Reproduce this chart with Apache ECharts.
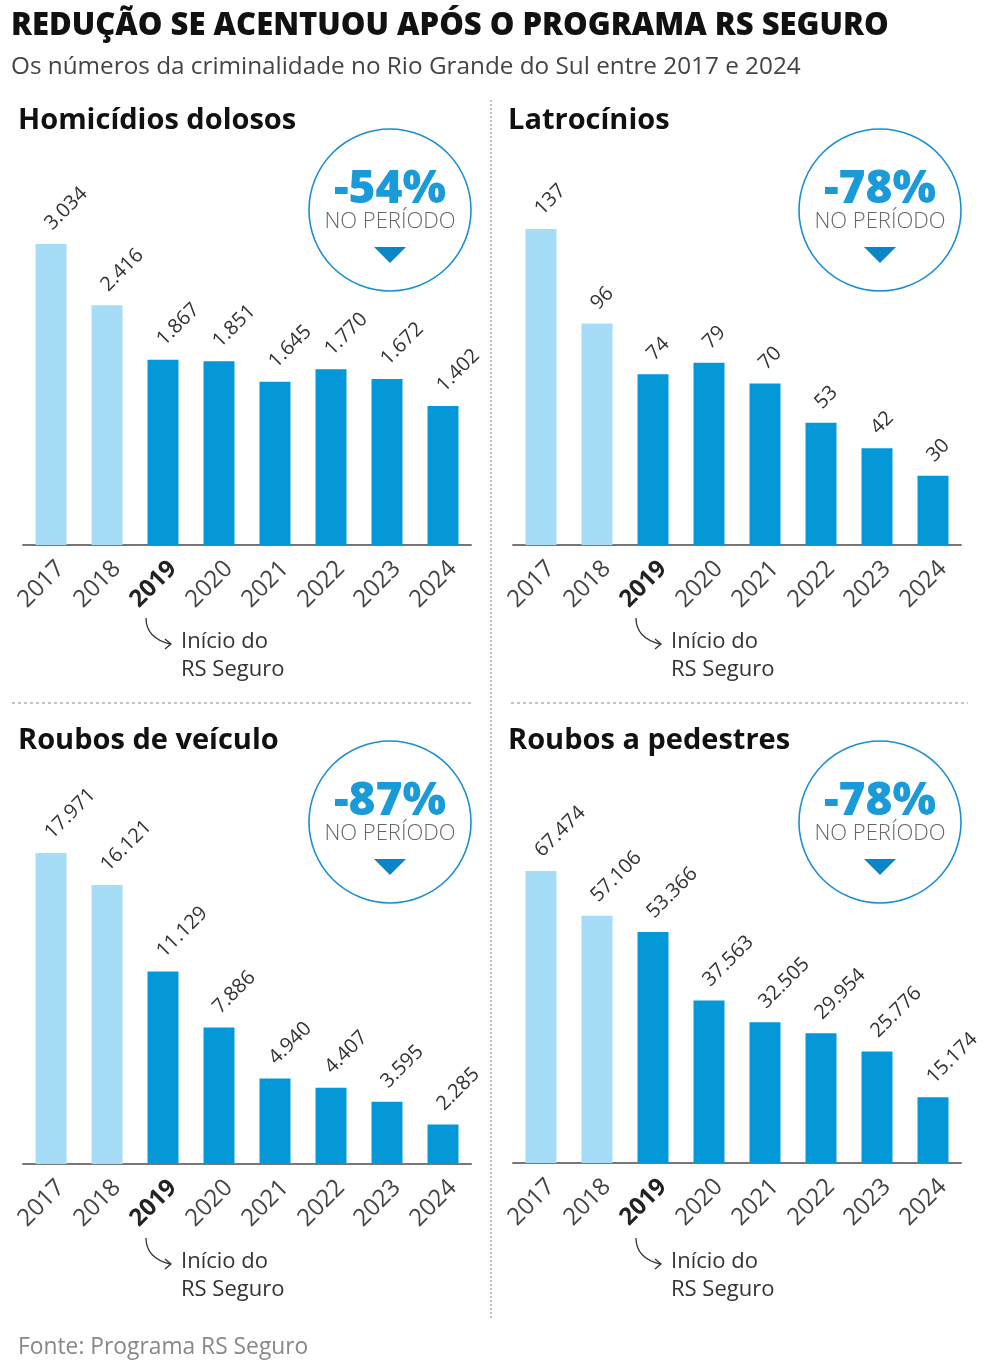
<!DOCTYPE html>
<html>
<head>
<meta charset="utf-8">
<script src="https://cdn.jsdelivr.net/npm/echarts@6/dist/echarts.min.js"></script>
</head>
<body style="margin:0;background:#fff">
<div id="chart" style="width:984px;height:1371px"></div>
<script>
// anos e valores de cada painel
var years = ['2017', '2018', '2019', '2020', '2021', '2022', '2023', '2024'];
var homicidios = [3034, 2416, 1867, 1851, 1645, 1770, 1672, 1402];
var latrocinios = [137, 96, 74, 79, 70, 53, 42, 30];
var roubosVeiculo = [17971, 16121, 11129, 7886, 4940, 4407, 3595, 2285];
var roubosPedestres = [67474, 57106, 53366, 37563, 32505, 29954, 25776, 15174];
var panelTitles = ['Homicídios dolosos', 'Latrocínios', 'Roubos de veículo', 'Roubos a pedestres'];
var reducoes = ['-54%', '-78%', '-87%', '-78%'];

var LIGHT = '#a6ddf6';
var DARK = '#0598d8';
var FONT = '"Open Sans", "Noto Sans", sans-serif';

function fmt(v) {
  return String(v).replace(/\B(?=(\d{3})+(?!\d))/g, '.');
}

// posição de cada painel
var panels = [
  { data: homicidios, left: 23, top: 200, height: 345, max: 3477, dx: 0, dy: 0 },
  { data: latrocinios, left: 513, top: 200, height: 345, max: 149.6, dx: 490, dy: 0 },
  { data: roubosVeiculo, left: 23, top: 800, height: 364, max: 21034, dx: 0, dy: 620 },
  { data: roubosPedestres, left: 513, top: 800, height: 363, max: 83880, dx: 490, dy: 620 }
];

var grids = [], xAxes = [], yAxes = [], series = [], graphics = [];

panels.forEach(function (p, i) {
  grids.push({ left: p.left, top: p.top, width: 448, height: p.height });
  xAxes.push({
    type: 'category', gridIndex: i, data: years,
    axisLine: { lineStyle: { color: '#777', width: 2 } },
    axisTick: { show: false },
    axisLabel: {
      rotate: 45, margin: 10, fontSize: 24, color: '#444', fontFamily: FONT,
      verticalAlign: 'top', padding: [2, 0, 0, 0],
      formatter: function (v) { return v === '2019' ? '{b|' + v + '}' : v; },
      rich: { b: { fontWeight: 'bold', fontSize: 24, color: '#222', fontFamily: FONT } }
    }
  });
  yAxes.push({ type: 'value', gridIndex: i, min: 0, max: p.max, show: false, splitLine: { show: false } });
  series.push({
    type: 'bar', xAxisIndex: i, yAxisIndex: i, barWidth: 31,
    data: p.data.map(function (v, k) {
      return { value: v, itemStyle: { color: k < 2 ? LIGHT : DARK } };
    }),
    label: {
      show: true, position: 'top', rotate: 45, align: 'left', verticalAlign: 'middle',
      distance: 20, offset: [-4, 0], fontSize: 20, color: '#333', fontFamily: FONT,
      formatter: function (d) { return fmt(d.value); }
    },
    animation: false
  });

  // título do painel
  graphics.push({
    type: 'text', left: 18 + p.dx, top: 106 + p.dy,
    style: { text: panelTitles[i], font: 'bold 29px ' + FONT, fill: '#111' }
  });
  // círculo com a redução
  var cx = 390 + p.dx, cy = 210 + (i < 2 ? 0 : 612);
  graphics.push({
    type: 'circle', shape: { cx: cx, cy: cy, r: 81 },
    style: { fill: 'none', stroke: '#1a8fd0', lineWidth: 1.6 }
  });
  graphics.push({
    type: 'text', x: cx, y: cy - 20,
    style: { text: reducoes[i], font: '800 46px ' + FONT, fill: '#1a9ad8', align: 'center', verticalAlign: 'middle' }
  });
  graphics.push({
    type: 'text', x: cx, y: cy + 12,
    style: { text: 'NO PERÍODO', font: '300 22px ' + FONT, fill: '#666', align: 'center', verticalAlign: 'middle' }
  });
  graphics.push({
    type: 'polygon', shape: { points: [[cx - 16, cy + 37], [cx + 16, cy + 37], [cx, cy + 53]] },
    style: { fill: '#0a86c8' }
  });
  // anotação do início do programa
  var ay = (i < 2 ? 0 : 620);
  graphics.push({
    type: 'bezierCurve',
    shape: { x1: 146 + p.dx, y1: 618 + ay, x2: 170 + p.dx, y2: 644 + ay, cpx1: 146 + p.dx, cpy1: 638 + ay },
    style: { stroke: '#333', lineWidth: 1.3, fill: 'none' }
  });
  graphics.push({
    type: 'polyline',
    shape: { points: [[165 + p.dx, 639 + ay], [171 + p.dx, 644 + ay], [165 + p.dx, 649 + ay]] },
    style: { stroke: '#333', lineWidth: 1.3, fill: 'none' }
  });
  graphics.push({
    type: 'text', left: 181 + p.dx, top: 628 + ay,
    style: { text: 'Início do\nRS Seguro', font: '22px ' + FONT, fill: '#333', lineHeight: 28 }
  });
});

// título geral, subtítulo, divisórias e fonte
graphics.push(
  { type: 'text', left: 11, top: 11, style: { text: 'REDUÇÃO SE ACENTUOU APÓS O PROGRAMA RS SEGURO', font: '800 31px ' + FONT, fill: '#111' } },
  { type: 'text', left: 11, top: 55, style: { text: 'Os números da criminalidade no Rio Grande do Sul entre 2017 e 2024', font: '24.3px ' + FONT, fill: '#444' } },
  { type: 'line', shape: { x1: 491, y1: 100, x2: 491, y2: 1318 }, style: { stroke: '#888', lineWidth: 1, lineDash: [2, 2] } },
  { type: 'line', shape: { x1: 12, y1: 703, x2: 471, y2: 703 }, style: { stroke: '#888', lineWidth: 1, lineDash: [3, 3] } },
  { type: 'line', shape: { x1: 511, y1: 703, x2: 968, y2: 703 }, style: { stroke: '#888', lineWidth: 1, lineDash: [3, 3] } },
  { type: 'text', left: 18, top: 1336, style: { text: 'Fonte: Programa RS Seguro', font: '22.8px ' + FONT, fill: '#888' } }
);

var chart = echarts.init(document.getElementById('chart'));
chart.setOption({
  backgroundColor: '#fff',
  animation: false,
  grid: grids,
  xAxis: xAxes,
  yAxis: yAxes,
  series: series,
  graphic: graphics
});
</script>
</body>
</html>
